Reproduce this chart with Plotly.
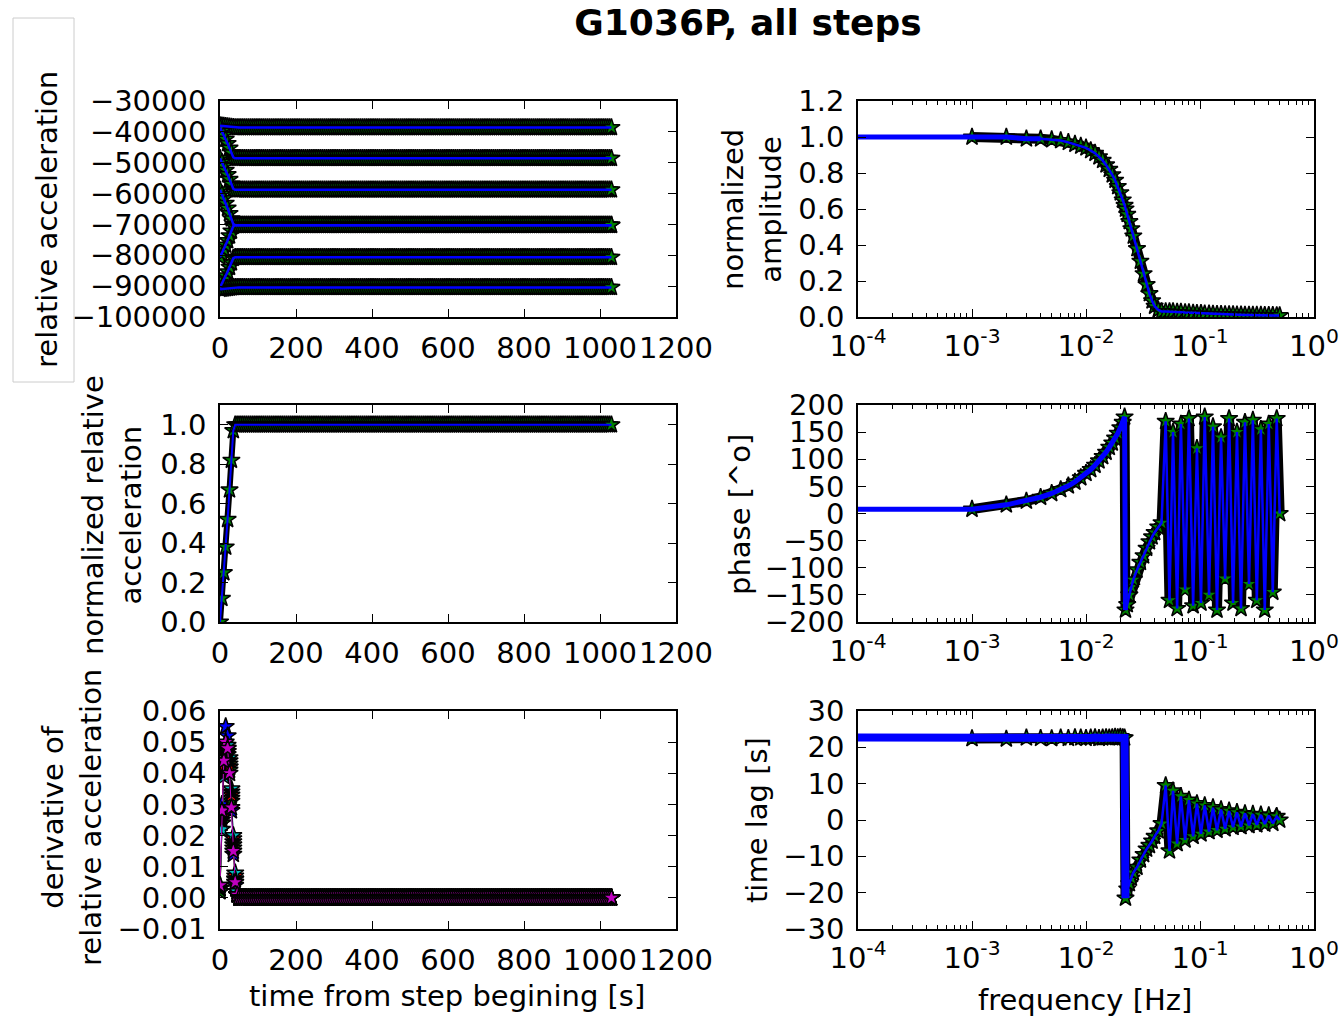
import plotly.graph_objects as go
from plotly.subplots import make_subplots

# ------------------------------------------------------------------ DATA
# --- time domain (left column) ---
time_s = list(range(0, 1031, 5))                      # sample times of a step record [s]
transient_t = [0, 5, 10, 15, 20, 25, 30, 35, 40]       # start of each record [s]
transient_norm = [0.0, 0.12, 0.25, 0.38, 0.52, 0.67, 0.82, 0.97, 1.0]
plateau_norm = 1.0                                     # normalized value after the transient

# level before / after each step (relative acceleration)
step_start = [-38000, -38580, -48560, -58760, -90400, -80640, -91000]
step_end = [-38580, -48560, -58760, -70240, -80640, -70240, -90400]

# derivative of normalized relative acceleration, t = 0..50 s every 5 s, one list per step
deriv_t = [0, 5, 10, 15, 20, 25, 30, 35, 40, 45, 50]
deriv_step_blue = [0.003, 0.030, 0.048, 0.055, 0.052, 0.042, 0.028, 0.014, 0.004, 0.001, 0.0]
deriv_step_yellow = [0.002, 0.024, 0.041, 0.047, 0.048, 0.043, 0.032, 0.016, 0.005, 0.001, 0.0]
deriv_step_green = [0.002, 0.024, 0.043, 0.049, 0.047, 0.041, 0.031, 0.017, 0.006, 0.001, 0.0]
deriv_step_red = [0.004, 0.026, 0.042, 0.048, 0.046, 0.042, 0.033, 0.019, 0.007, 0.002, 0.0]
deriv_step_cyan = [0.003, 0.022, 0.039, 0.046, 0.049, 0.045, 0.035, 0.020, 0.008, 0.002, 0.0]
deriv_step_black = [0.003, 0.025, 0.040, 0.046, 0.047, 0.044, 0.034, 0.018, 0.006, 0.001, 0.0]
deriv_step_magenta = [0.004, 0.028, 0.044, 0.050, 0.048, 0.040, 0.029, 0.015, 0.005, 0.001, 0.0]
deriv_plateau = 0.0

# --- frequency domain (right column) ---
dc_freq_display = 1e-5          # stands in for f = 0 Hz (clipped at the axis edge, as in the source)
dc_amplitude = 1.0
dc_phase = 8.0
dc_lag = 22.8

freq_hz = [0.001, 0.002, 0.003, 0.004, 0.005, 0.006, 0.007, 0.008, 0.009, 0.010,
           0.011, 0.012, 0.013, 0.014, 0.015, 0.016, 0.017, 0.018, 0.019, 0.020,
           0.021, 0.0218, 0.0222, 0.023, 0.024, 0.025, 0.026, 0.028, 0.030, 0.032,
           0.034, 0.036, 0.038, 0.040, 0.043, 0.046,
           0.050, 0.054, 0.058, 0.063, 0.068, 0.074, 0.080, 0.087, 0.094, 0.102,
           0.110, 0.120, 0.130, 0.141, 0.153, 0.166, 0.180, 0.195, 0.211, 0.229,
           0.248, 0.269, 0.291, 0.315, 0.342, 0.370, 0.401, 0.435, 0.471, 0.500]

amplitude = [1.0, 1.0, 0.99, 0.99, 0.985, 0.98, 0.97, 0.96, 0.95, 0.94,
             0.925, 0.91, 0.89, 0.87, 0.845, 0.82, 0.79, 0.76, 0.725, 0.69,
             0.65, 0.62, 0.60, 0.57, 0.53, 0.49, 0.45, 0.38, 0.31, 0.24,
             0.18, 0.13, 0.09, 0.06, 0.04, 0.03,
             0.030, 0.030, 0.030, 0.028, 0.027, 0.025, 0.024, 0.022, 0.020, 0.020,
             0.018, 0.017, 0.016, 0.015, 0.015, 0.014, 0.013, 0.013, 0.012, 0.012,
             0.011, 0.011, 0.010, 0.010, 0.010, 0.009, 0.009, 0.009, 0.008, 0.008]

phase_deg = [8, 16, 23, 30, 37, 44, 51, 58, 66, 74,
             81, 89, 97, 105, 113, 122, 130, 139, 148, 158,
             168, 178, -178, -168, -150, -135, -122, -104, -90, -78,
             -64, -52, -43, -35, -25, -17,
             170, -160, 150, -175, 165, -140, 175, -170, 120, -165,
             178, -150, 160, -178, 140, -120, 175, -165, 150, -175,
             168, -130, 172, -160, 155, -178, 165, -145, 175, 0]

time_lag_s = [22.4, 22.3, 22.6, 22.5, 22.4, 22.6, 22.5, 22.7, 22.6, 22.5,
              22.6, 22.7, 22.5, 22.6, 22.7, 22.6, 22.7, 22.8, 22.7, 22.8,
              22.7, 22.6, -21.5, -19.0, -17.5, -16.0, -14.5, -13.0, -11.0, -9.5,
              -8.0, -7.0, -5.8, -4.5, -3.0, -1.0,
              9.5, -8.5, 8.0, -6.5, 6.5, -5.5, 5.5, -4.5, 4.5, -3.8,
              4.0, -3.2, 3.4, -2.8, 2.9, -2.4, 2.5, -2.0, 2.1, -1.8,
              1.8, -1.5, 1.6, -1.3, 1.4, -1.1, 1.2, -0.9, 1.0, 0.0]

# ------------------------------------------------------------------ STYLE
W, H = 1344, 1017
FONT = "DejaVu Sans"
BLUE = "#0000ff"
GREEN = "#008000"
MPL = {"black": "#000000", "yellow": "#bfbf00", "red": "#ff0000", "cyan": "#00bfbf",
       "green": "#008000", "magenta": "#bf00bf", "blue": "#0000ff"}


def px(x):
    return x / W


def py(y):
    return 1 - y / H


star = dict(symbol="star", size=13, color=GREEN, line=dict(color="black", width=1.5))

fig = make_subplots(rows=3, cols=2)

# normalized series for one record
norm_series = transient_norm + [plateau_norm] * (len(time_s) - len(transient_norm))

# --- row 1, left: relative acceleration of every step
for s0, s1 in zip(step_start, step_end):
    yvals = [s0 + (s1 - s0) * v for v in norm_series]
    fig.add_trace(go.Scatter(x=time_s, y=yvals, mode="lines+markers", marker=star,
                             line=dict(color="black", width=6),
                             showlegend=False, hoverinfo="skip"), row=1, col=1)
for s0, s1 in zip(step_start, step_end):
    yvals = [s0 + (s1 - s0) * v for v in norm_series]
    fig.add_trace(go.Scatter(x=time_s, y=yvals, mode="lines", line=dict(color=BLUE, width=2.5),
                             showlegend=False, hoverinfo="skip"), row=1, col=1)

# --- row 2, left: normalized relative acceleration
fig.add_trace(go.Scatter(x=time_s, y=norm_series, mode="lines+markers", marker=star,
                         line=dict(color="black", width=6),
                         showlegend=False, hoverinfo="skip"), row=2, col=1)
fig.add_trace(go.Scatter(x=time_s, y=norm_series, mode="lines", line=dict(color=BLUE, width=2),
                         showlegend=False, hoverinfo="skip"), row=2, col=1)

# --- row 3, left: derivative
deriv_sets = [("blue", deriv_step_blue), ("yellow", deriv_step_yellow), ("green", deriv_step_green),
              ("red", deriv_step_red), ("cyan", deriv_step_cyan),
              ("black", deriv_step_black), ("magenta", deriv_step_magenta)]
for name, prof in deriv_sets:
    dvals = prof + [deriv_plateau] * (len(time_s) - len(prof))
    c = MPL[name]
    fig.add_trace(go.Scatter(x=time_s, y=dvals, mode="lines+markers",
                             line=dict(color=c, width=1),
                             marker=dict(symbol="star", size=13, color=c,
                                         line=dict(color="black", width=1.5)),
                             showlegend=False, hoverinfo="skip"), row=3, col=1)

# --- right column (row, values, dc value, number of points drawn with the heavy overlap line, its width)
right = [(1, amplitude, dc_amplitude, 4, 5), (2, phase_deg, dc_phase, 23, 5),
         (3, time_lag_s, dc_lag, 23, 8)]
for r, vals, dc, n_heavy, w_heavy in right:
    fig.add_trace(go.Scatter(x=freq_hz, y=vals, mode="lines+markers",
                             line=dict(color="black", width=10),
                             marker=star, showlegend=False, hoverinfo="skip"), row=r, col=2)
    fig.add_trace(go.Scatter(x=[dc_freq_display] + freq_hz, y=[dc] + vals, mode="lines",
                             line=dict(color=BLUE, width=2.5),
                             showlegend=False, hoverinfo="skip"), row=r, col=2)
    fig.add_trace(go.Scatter(x=[dc_freq_display] + freq_hz[:n_heavy], y=[dc] + vals[:n_heavy],
                             mode="lines", line=dict(color=BLUE, width=w_heavy),
                             showlegend=False, hoverinfo="skip"), row=r, col=2)

# ------------------------------------------------------------------ AXES
tickfont = dict(family=FONT, size=29, color="black")
common = dict(showline=True, linecolor="black", linewidth=1.5, mirror="ticks",
              ticks="inside", ticklen=8, tickwidth=1.2, tickcolor="black",
              showgrid=False, zeroline=False, tickfont=tickfont,
              automargin=False, tickangle=0)

col_x = {1: [px(220), px(676)], 2: [px(858), px(1314)]}
row_y = {1: [py(317), py(101)], 2: [py(622), py(405)], 3: [py(929), py(711)]}

minor_vals = [m * 10 ** e for e in range(-4, 0) for m in range(2, 10)]
log_ticks = [1e-4, 1e-3, 1e-2, 1e-1, 1]
log_text = ["10<sup>-4</sup>", "10<sup>-3</sup>", "10<sup>-2</sup>", "10<sup>-1</sup>", "10<sup>0</sup>"]

yspecs = {
    1: dict(range=[-100000, -30000], tick0=-100000, dtick=10000, tickformat="d"),
    2: dict(range=[0, 1.2], tick0=0, dtick=0.2, tickformat=".1f"),
    3: dict(range=[0, 1.1], tickvals=[0, 0.2, 0.4, 0.6, 0.8, 1.0], tickformat=".1f"),
    4: dict(range=[-200, 200], tick0=-200, dtick=50, tickformat="d"),
    5: dict(range=[-0.01, 0.06], tick0=-0.01, dtick=0.01, tickformat=".2f"),
    6: dict(range=[-30, 30], tick0=-30, dtick=10, tickformat="d"),
}

layout_axes = {}
for i in range(1, 7):
    r = (i - 1) // 2 + 1
    c = (i - 1) % 2 + 1
    xk = "xaxis" if i == 1 else f"xaxis{i}"
    yk = "yaxis" if i == 1 else f"yaxis{i}"
    if c == 1:
        xa = dict(common, domain=col_x[c], range=[0, 1200], tick0=0, dtick=200,
                  tickformat="d", ticklabelstandoff=4)
    else:
        xa = dict(common, domain=col_x[c], type="log", range=[-4, 0],
                  tickvals=log_ticks, ticktext=log_text, ticklabelstandoff=2,
                  minor=dict(ticks="inside", ticklen=4, tickwidth=1, tickcolor="black",
                             tickvals=minor_vals, showgrid=False))
    ya = dict(common, domain=row_y[r], ticklabelstandoff=6, **yspecs[i])
    layout_axes[xk] = xa
    layout_axes[yk] = ya

fig.update_layout(**layout_axes)

# ------------------------------------------------------------------ TEXT
lab = dict(family=FONT, size=29, color="black")
annotations = [
    dict(text="relative acceleration", x=px(47), y=py(220), textangle=-90),
    dict(text="normalized relative<br>acceleration", x=px(112), y=py(515), textangle=-90),
    dict(text="derivative of<br>relative acceleration", x=px(72), y=py(818), textangle=-90),
    dict(text="normalized<br>amplitude", x=px(752), y=py(210), textangle=-90),
    dict(text="phase [^o]", x=px(740), y=py(515), textangle=-90),
    dict(text="time lag [s]", x=px(757), y=py(820), textangle=-90),
    dict(text="time from step begining [s]", x=px(447), y=py(996), textangle=0),
    dict(text="frequency [Hz]", x=px(1085), y=py(1000), textangle=0),
]
for a in annotations:
    a.update(xref="paper", yref="paper", xanchor="center", yanchor="middle",
             showarrow=False, font=lab)

fig.update_layout(
    width=W, height=H,
    margin=dict(l=0, r=0, t=0, b=0),
    paper_bgcolor="white", plot_bgcolor="white",
    font=dict(family=FONT, color="black"),
    title=dict(text="<b>G1036P, all steps</b>", x=px(748), xanchor="center",
               y=py(22), yanchor="middle", font=dict(family=FONT, size=36, color="black")),
    annotations=annotations,
    shapes=[dict(type="rect", xref="paper", yref="paper",
                 x0=px(13), x1=px(74), y0=py(382), y1=py(18),
                 line=dict(color="#cccccc", width=1), fillcolor="rgba(0,0,0,0)")],
)

fig.write_html("out.html")
